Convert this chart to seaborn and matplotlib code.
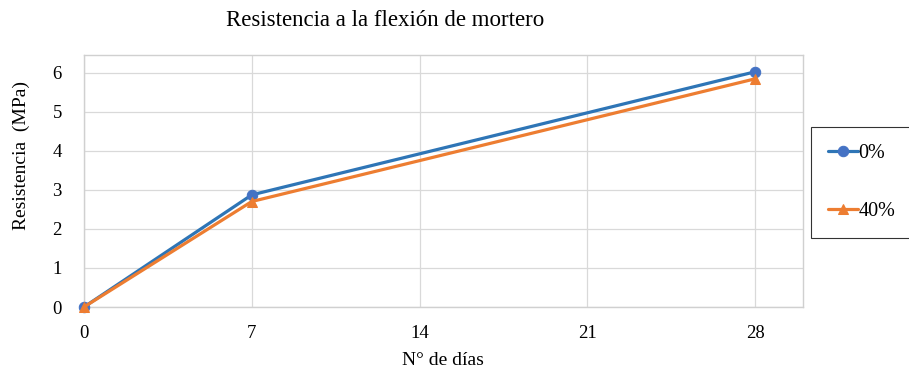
import matplotlib
matplotlib.use("Agg")
import matplotlib.pyplot as plt
import seaborn as sns
import pandas as pd

dias = [0, 7, 28]
serie_0 = [0.0, 2.87, 6.02]
serie_40 = [0.0, 2.70, 5.84]
labels = ["0%", "40%"]

df = pd.DataFrame({
    "dias": dias * 2,
    "res": serie_0 + serie_40,
    "serie": [labels[0]] * len(dias) + [labels[1]] * len(dias),
})

sns.set_theme(style="white")
plt.rcParams["font.family"] = ["Liberation Serif", "DejaVu Serif"]
plt.rcParams["text.color"] = "black"

fig = plt.figure(figsize=(9.09, 3.68), dpi=100)
ax = fig.add_axes([84/909, 1-307/368, (803-84)/909, (307-55)/368])

colors = {"0%": "#2E75B6", "40%": "#ED7D31"}
mcolors = {"0%": "#4472C4", "40%": "#ED7D31"}
markers = {"0%": "o", "40%": "^"}
for s in labels:
    sub = df[df["serie"] == s]
    sns.lineplot(data=sub, x="dias", y="res", ax=ax, color=colors[s], lw=2.3,
                 marker=markers[s], markersize=7.5, markerfacecolor=mcolors[s],
                 markeredgecolor=mcolors[s], label=s, zorder=3, clip_on=False)

ax.set_xlim(0, 30)
ax.set_ylim(0, 6.45)
ax.set_xticks([0, 7, 14, 21, 28])
ax.set_yticks([0, 1, 2, 3, 4, 5, 6])
ax.grid(True, color="#d9d9d9", lw=0.9)
for sp in ax.spines.values():
    sp.set_color("#d0d0d0")
    sp.set_linewidth(1.0)
ax.tick_params(axis="y", labelsize=13.5, length=0, pad=16, labelcolor="black")
ax.tick_params(axis="x", labelsize=13.5, length=0, pad=13, labelcolor="black")
ax.set_xlabel("")
ax.set_ylabel("")
fig.text(443/909, 1-365/368, "N° de días", ha="center", va="baseline",
         fontsize=14, color="black")
fig.text(21/909, 1-156/368, "Resistencia  (MPa)", ha="center", va="center",
         rotation=90, fontsize=14, color="black")
fig.text(385/909, 1-20/368, "Resistencia a la flexión de mortero", ha="center",
         va="center", fontsize=16.5, color="black")

ax.get_legend().remove()
h, l = ax.get_legend_handles_labels()
leg = fig.legend(h, l, loc="upper left", bbox_to_anchor=(811/909, 1-127/368),
                 fontsize=14.5, frameon=True, fancybox=False, labelspacing=1.9,
                 borderpad=0.85, handlelength=1.5, handletextpad=0.0,
                 borderaxespad=0, labelcolor="black")
leg.get_frame().set_edgecolor("black")
leg.get_frame().set_linewidth(0.8)

fig.savefig("out.png", dpi=100)
